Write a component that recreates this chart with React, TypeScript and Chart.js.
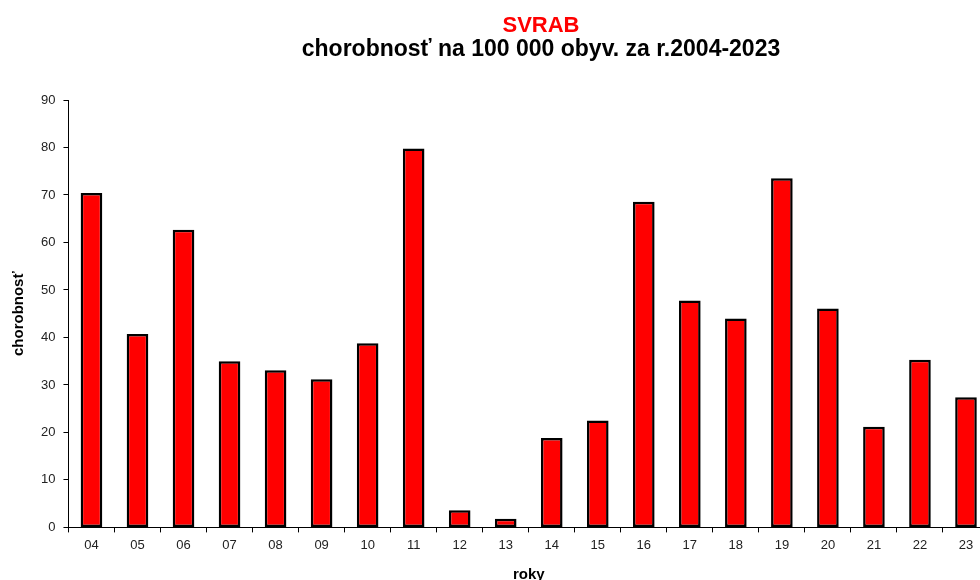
import React, { useEffect, useRef } from "react";
import { Chart, registerables } from "chart.js";

Chart.register(...registerables);

const years = ["04", "05", "06", "07", "08", "09", "10", "11", "12", "13", "14", "15", "16", "17", "18", "19", "20", "21", "22", "23"];
const morbidity = [70.4, 40.7, 62.7, 35.0, 33.1, 31.2, 38.8, 79.8, 3.6, 1.8, 18.8, 22.5, 68.6, 47.8, 44.0, 73.5, 46.1, 21.2, 35.3, 27.4];
const yTicks = { min: 0, max: 90, step: 10 };
const titleText = "SVRAB";
const subtitleText = "chorobnosť na 100 000 obyv. za r.2004-2023";
const yTitle = "chorobnosť";
const xTitle = "roky";

const FONT = "'Liberation Sans', Arial, sans-serif";

const titlePlugin = {
  id: "centeredTitles",
  afterDraw(chart: any) {
    const ctx = chart.ctx;
    ctx.save();
    ctx.textAlign = "center";
    ctx.textBaseline = "alphabetic";
    ctx.font = `bold 22px ${FONT}`;
    ctx.fillStyle = "#ff0000";
    ctx.fillText(titleText, 541, 32);
    ctx.font = `bold 23px ${FONT}`;
    ctx.fillStyle = "#000000";
    ctx.fillText(subtitleText, 541, 56);
    ctx.restore();
  },
};

export default function App() {
  const ref = useRef<HTMLCanvasElement | null>(null);
  useEffect(() => {
    if (!ref.current) return;
    const chart = new Chart(ref.current, {
      type: "bar",
      data: {
        labels: years,
        datasets: [
          {
            data: morbidity,
            backgroundColor: "#ff0000",
            borderColor: "#000000",
            borderWidth: 2.5,
            borderSkipped: false,
            barPercentage: 0.47,
            categoryPercentage: 1,
          },
        ],
      },
      options: {
        responsive: false,
        animation: false,
        layout: { padding: { left: 10, right: 91, top: 100, bottom: 6 } },
        plugins: {
          legend: { display: false },
          tooltip: { enabled: false },
          title: { display: false },
        },
        scales: {
          x: {
            grid: { display: true, drawOnChartArea: false, drawTicks: true, tickLength: 5, color: "#000", offset: true },
            border: { display: true, color: "#000", width: 1 },
            ticks: { color: "#222", font: { family: FONT, size: 13 }, padding: 5, maxRotation: 0 },
            title: { display: true, text: xTitle, color: "#000", font: { family: FONT, size: 15, weight: "bold" }, padding: { top: 8, bottom: 0 } },
          },
          y: {
            min: yTicks.min,
            max: yTicks.max,
            grid: { display: true, drawOnChartArea: false, drawTicks: true, tickLength: 5, color: "#000" },
            border: { display: true, color: "#000", width: 1 },
            ticks: { stepSize: yTicks.step, color: "#222", font: { family: FONT, size: 13 }, padding: 8 },
            title: { display: true, text: yTitle, color: "#000", font: { family: FONT, size: 15, weight: "bold" }, padding: { top: 0, bottom: 5 } },
          },
        },
      },
      plugins: [titlePlugin],
    });
    return () => chart.destroy();
  }, []);
  return (
    <div style={{ position: "absolute", left: 0, top: 0, width: 980, height: 580, overflow: "hidden", background: "#fff" }}>
      <canvas ref={ref} width={1080} height={590} style={{ display: "block" }} />
    </div>
  );
}
